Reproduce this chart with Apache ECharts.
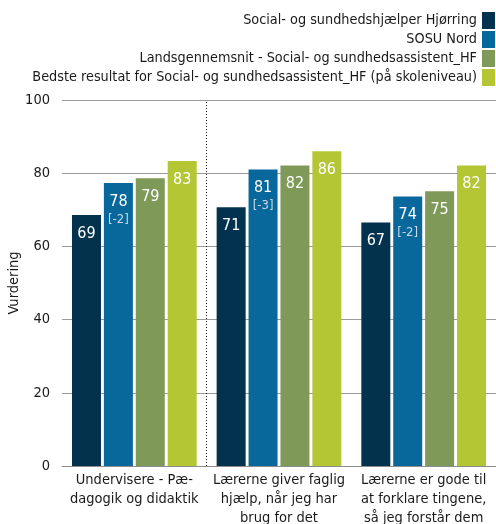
<!DOCTYPE html>
<html><head><meta charset="utf-8">
<script src="https://cdn.jsdelivr.net/npm/echarts@6/dist/echarts.min.js"></script>
<style>html,body{margin:0;padding:0;background:#fff}#c{width:496px;height:524px}</style>
</head><body><div id="c"></div>
<script>
const categories = ['Undervisere - Pæ-\ndagogik og didaktik', 'Lærerne giver faglig\nhjælp, når jeg har\nbrug for det', 'Lærerne er gode til\nat forklare tingene,\nså jeg forstår dem'];
const seriesNames = ['Social- og sundhedshjælper Hjørring', 'SOSU Nord', 'Landsgennemsnit - Social- og sundhedsassistent_HF', 'Bedste resultat for Social- og sundhedsassistent_HF (på skoleniveau)'];
const hjoerring = [68.6, 70.7, 66.5];
const sosuNord = [77.3, 81.0, 73.6];
const landsgennemsnit = [78.6, 82.1, 75.1];
const bedste = [83.3, 86.0, 82.1];
const hjoerringLabels = ['69', '71', '67'];
const sosuNordLabels = ['78', '81', '74'];
const sosuNordDiff = ['[-2]', '[-3]', '[-2]'];
const landsLabels = ['79', '82', '75'];
const bedsteLabels = ['83', '86', '82'];
const separatorAt = [1];
const colors = ['#03324f', '#08679b', '#7e9958', '#b4c633'];
const FONT = 'Tahoma, "DejaVu Sans Condensed", "Liberation Sans", sans-serif';

function mk(i, data, labels, diffs) {
  return {
    name: seriesNames[i], type: 'bar', data: data, xAxisIndex: 0,
    barWidth: 29, barGap: '10%', barCategoryGap: '13%',
    itemStyle: { color: colors[i] },
    label: {
      show: true, position: 'insideTop', distance: 9,
      fontFamily: FONT, fontSize: 16, color: '#fff', lineHeight: 19,
      formatter: p => diffs ? '{v|' + labels[p.dataIndex] + '}\n{d|' + diffs[p.dataIndex] + '}' : labels[p.dataIndex],
      rich: diffs ? { v: { fontFamily: FONT, fontSize: 16, color: '#fff', lineHeight: 19 }, d: { fontFamily: FONT, fontSize: 13, color: '#c9d9e6', lineHeight: 17 } } : undefined
    }
  };
}

const chart = echarts.init(document.getElementById('c'), null, { renderer: 'canvas' });
chart.setOption({
  animation: false,
  color: colors,
  legend: {
    orient: 'vertical', right: 1, top: 12, align: 'right', padding: 0,
    itemWidth: 13, itemHeight: 17, itemGap: 2, icon: 'rect',
    textStyle: { fontFamily: FONT, fontSize: 14.3, color: '#1a1a1a', padding: [0, 0, 0, 0] },
    data: seriesNames
  },
  grid: { left: 62, right: 0, top: 100, bottom: 58, containLabel: false, outerBoundsMode: 'none' },
  xAxis: [{
    type: 'category', data: categories,
    axisLine: { lineStyle: { color: '#8c8c8c', width: 1 } },
    axisTick: { show: false },
    axisLabel: { fontFamily: FONT, fontSize: 14.5, color: '#1a1a1a', lineHeight: 19, margin: 5, interval: 0 },
    splitLine: { show: false }
  }, {
    type: 'value', min: 0, max: categories.length, show: false
  }],
  yAxis: {
    type: 'value', min: 0, max: 100, interval: 20,
    name: 'Vurdering', nameLocation: 'middle', nameGap: 40, nameRotate: 90, nameMoveOverlap: false,
    nameTextStyle: { fontFamily: FONT, fontSize: 14.5, color: '#1a1a1a' },
    axisLabel: { fontFamily: FONT, fontSize: 14.5, color: '#1a1a1a', margin: 12 },
    axisLine: { show: false }, axisTick: { show: false },
    splitLine: { lineStyle: { color: '#9a9a9a', width: 1 } }
  },
  series: [
    mk(0, hjoerring, hjoerringLabels),
    mk(1, sosuNord, sosuNordLabels, sosuNordDiff),
    mk(2, landsgennemsnit, landsLabels),
    mk(3, bedste, bedsteLabels),
    {
      type: 'scatter', xAxisIndex: 1, data: [[0, 0]], symbolSize: 0, silent: true,
      markLine: {
        symbol: 'none', silent: true, label: { show: false },
        lineStyle: { type: [1, 2], color: '#222', width: 1 },
        data: separatorAt.map(v => ({ xAxis: v }))
      }
    }
  ]
});
</script></body></html>
